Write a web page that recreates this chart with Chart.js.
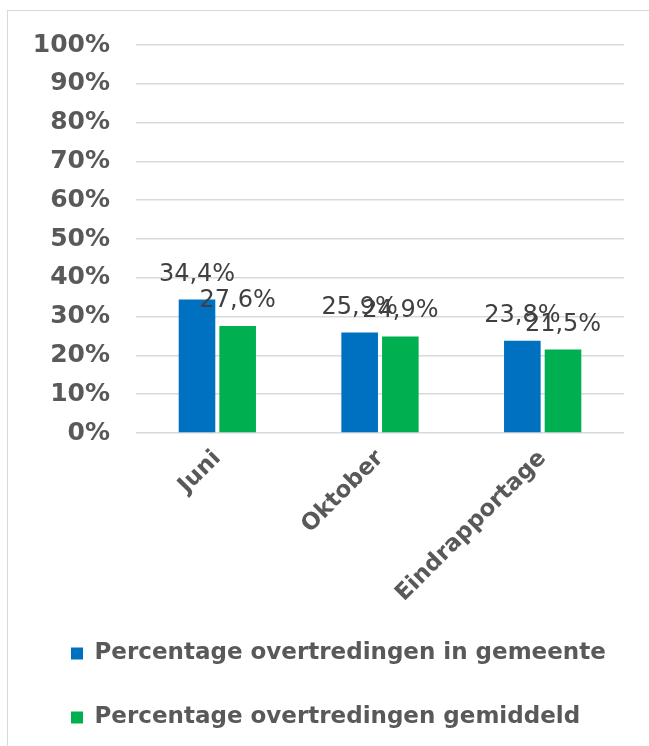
<!DOCTYPE html>
<html>
<head>
<meta charset="utf-8">
<script src="https://cdn.jsdelivr.net/npm/chart.js@4"></script>
<style>
  html, body { margin: 0; padding: 0; background: #fff; overflow: hidden; }
  #frame { position: absolute; left: 7px; top: 10px; width: 700px; height: 800px; border: 1px solid #d9d9d9; }
  #wrap { position: absolute; left: 0; top: 0; width: 649px; height: 746px; }
</style>
</head>
<body>
<div id="frame"></div>
<div id="wrap"><canvas id="overtredingenChart"></canvas></div>
<script>
  // Chart data
  const periods = ['Juni', 'Oktober', 'Eindrapportage'];
  const gemeenteValues = [34.4, 25.9, 23.8];
  const gemiddeldValues = [27.6, 24.9, 21.5];
  const seriesNames = ['Percentage overtredingen in gemeente', 'Percentage overtredingen gemiddeld'];

  const FONT = 'DejaVu Sans';

  // Draw value labels above bars (Dutch decimal comma)
  const valueLabels = {
    id: 'valueLabels',
    afterDatasetsDraw(chart) {
      const ctx = chart.ctx;
      ctx.save();
      ctx.font = '24px "' + FONT + '"';
      ctx.fillStyle = '#404040';
      ctx.textAlign = 'center';
      ctx.textBaseline = 'alphabetic';
      chart.data.datasets.forEach((ds, i) => {
        chart.getDatasetMeta(i).data.forEach((bar, j) => {
          const txt = ds.data[j].toFixed(1).replace('.', ',') + '%';
          ctx.fillText(txt, bar.x, bar.y - 19);
        });
      });
      ctx.restore();
    }
  };

  new Chart(document.getElementById('overtredingenChart'), {
    type: 'bar',
    data: {
      labels: periods,
      datasets: [{
        label: seriesNames[0],
        data: gemeenteValues,
        backgroundColor: '#0070C0'
      }, {
        label: seriesNames[1],
        data: gemiddeldValues,
        backgroundColor: '#00B050'
      }]
    },
    options: {
      responsive: true,
      maintainAspectRatio: false,
      animation: false,
      categoryPercentage: 0.5,
      barPercentage: 0.9,
      layout: {
        padding: { left: 30, right: 25, top: 45, bottom: 7 }
      },
      plugins: {
        tooltip: { enabled: false },
        legend: {
          position: 'bottom',
          align: 'start',
          labels: {
            boxWidth: 12,
            boxHeight: 12,
            padding: 41,
            color: '#595959',
            font: { family: FONT, size: 23, weight: 'bold' }
          }
        }
      },
      scales: {
        x: {
          grid: { display: false },
          border: { display: false },
          afterFit: s => { s.height = 168; },
          ticks: {
            color: '#595959',
            maxRotation: 45,
            minRotation: 45,
            padding: 4,
            font: { family: FONT, size: 23, weight: 'bold' }
          }
        },
        y: {
          min: 0,
          max: 100,
          afterFit: s => { s.width = 106; },
          grid: { color: '#d9d9d9', lineWidth: 1.5, drawTicks: false },
          border: { display: false },
          ticks: {
            stepSize: 10,
            padding: 26,
            color: '#595959',
            font: { family: FONT, size: 25, weight: 'bold' },
            callback: v => v + '%'
          }
        }
      }
    },
    plugins: [valueLabels]
  });
</script>
</body>
</html>
